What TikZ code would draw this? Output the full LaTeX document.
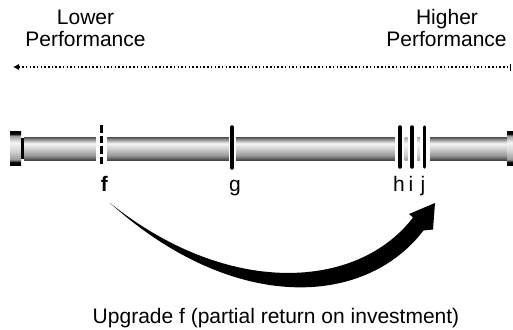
\documentclass[tikz,border=0pt]{standalone}
\usepackage{fontspec}
\setmainfont{Liberation Sans}
\usetikzlibrary{arrows.meta}
\definecolor{rodT}{gray}{0.30}
\definecolor{rodC}{gray}{0.60}
\definecolor{rodA}{gray}{0.96}
\definecolor{rodB}{gray}{0.82}
\definecolor{rodE}{gray}{0.28}
\pgfdeclareverticalshading{rodshade}{100bp}{color(0bp)=(rodE); color(25bp)=(rodE); color(35bp)=(rodC); color(50bp)=(rodB); color(61bp)=(rodA); color(69bp)=(rodC); color(75bp)=(rodT); color(100bp)=(rodT)}
\pgfdeclareverticalshading{capshade}{100bp}{color(0bp)=(black); color(29bp)=(black); color(33bp)=(rodC); color(45bp)=(rodB); color(58bp)=(rodA); color(68bp)=(rodC); color(71bp)=(black); color(100bp)=(black)}
\begin{document}
\begin{tikzpicture}[x=1pt,y=-1pt,
  lbl/.style={font=\fontsize{21}{21}\selectfont, inner sep=0pt, anchor=base},
  markline/.style={line width=3.5pt, line cap=round},
  dashline/.style={line width=2.5pt, dash pattern=on 7.5pt off 3pt},
  dotline/.style={line width=1.5pt, dash pattern=on 1.5pt off 2.2pt}]
\useasboundingbox (0,0) rectangle (513,329);
% top labels
\node[lbl] (lowA) at (85.5,25) {Lower};
\node[lbl] (lowB) at (85.5,46) {Performance};
\node[lbl] (higA) at (447,25) {Higher};
\node[lbl] (higB) at (446.5,46) {Performance};
% dotted arrow
\coordinate (dotL) at (13,67);
\coordinate (dotR) at (511,67);
\draw[dotline, {Latex[length=6pt,width=6.5pt]}-{Bar[width=7pt]}] (dotL) -- (dotR);
% rod
\shade[shading=rodshade] (24,137) rectangle (507,160);
\shade[shading=capshade] (10,131) rectangle (21,165);
\fill (21,138) rectangle (24,159);
\shade[shading=capshade] (507,131) rectangle (513,165);
% gaps
\fill[white] (96,135) rectangle (107,162);
\fill[white] (228.5,135) rectangle (235.5,162);
\fill[white] (395,135) rectangle (430,162);
\shade[shading=rodshade, opacity=0.5] (404.5,137) rectangle (407.5,160);
\shade[shading=rodshade, opacity=0.5] (417,137) rectangle (420,160);
% marker lines
\coordinate (fTop) at (101.7,125); \coordinate (fBot) at (101.7,165);
\draw[dashline] (fTop) -- (fBot);
\coordinate (gTop) at (232,127); \coordinate (gBot) at (232,168);
\draw[markline] (gTop) -- (gBot);
\coordinate (hTop) at (400,127); \coordinate (hBot) at (400,167);
\draw[markline] (hTop) -- (hBot);
\coordinate (iTop) at (412,127); \coordinate (iBot) at (412,167);
\draw[markline] (iTop) -- (iBot);
\coordinate (jTop) at (424.5,127); \coordinate (jBot) at (424.5,167);
\draw[markline] (jTop) -- (jBot);
% marker labels
\node[lbl] (fl) at (104.5,191) {\textbf{f}};
\node[lbl] (gl) at (235,191) {g};
\node[lbl] (hl) at (399,191) {h};
\node[lbl] (il) at (411,191) {i};
\node[lbl] (jl) at (423,191) {j};
% curved arrow
\coordinate (aS) at (110,203);
\coordinate (nT) at (413,217.5);
\coordinate (bL) at (409,214);
\coordinate (aTip) at (435,203);
\coordinate (bR) at (433,229.5);
\coordinate (nB) at (423.5,230.5);
\fill (aS) .. controls (228,297.6) and (357.5,290) .. (nT) -- (bL) -- (aTip) -- (bR) -- (nB) .. controls (363.6,308.5) and (231.7,312.5) .. (aS) -- cycle;
% caption
\node[lbl] (capt) at (276,323) {Upgrade f (partial return on investment)};
\end{tikzpicture}
\end{document}
